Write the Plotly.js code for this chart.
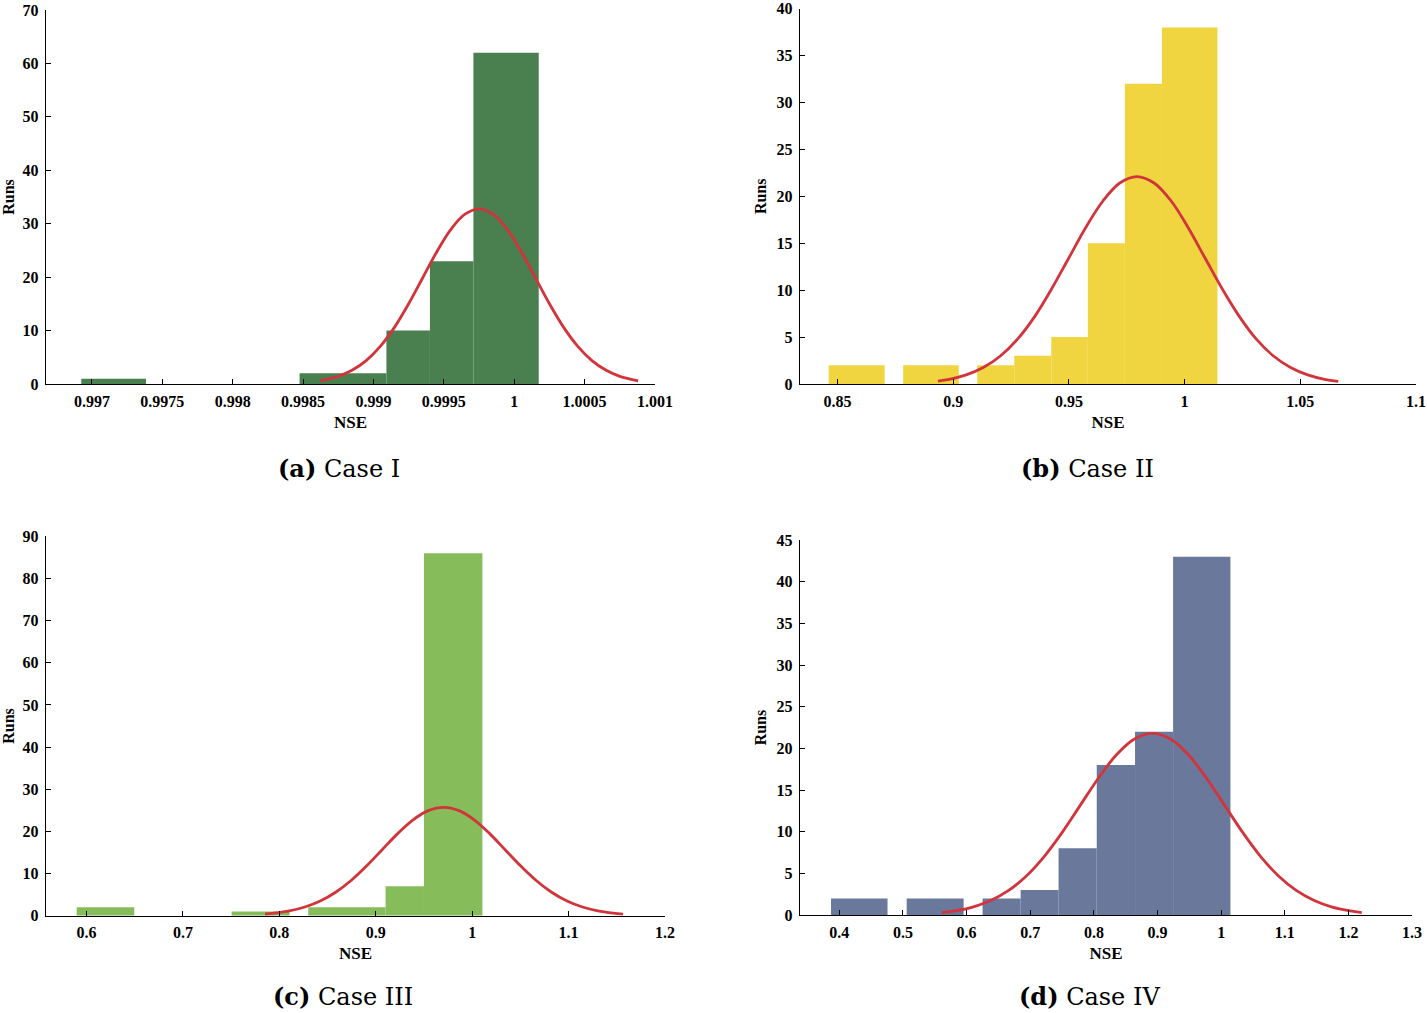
<!DOCTYPE html>
<html>
<head>
<meta charset="utf-8">
<script src="https://cdn.plot.ly/plotly-3.0.1.min.js"></script>
<style>html,body{margin:0;padding:0;background:#fff;}#chart{width:1427px;height:1013px;}</style>
</head>
<body>
<div id="chart"></div>
<script>
// ---------- Data ----------
// Case I
const aBinLeft  = [0.996924, 0.998475, 0.999092, 0.999401, 0.999710];
const aBinRight = [0.997384, 0.999092, 0.999401, 0.999710, 1.000174];
const aCounts   = [1, 2, 10, 23, 62];
const aCurveX = [0.99862, 0.99875, 0.99885, 0.99895, 0.99905, 0.99915, 0.99925, 0.99935, 0.99945, 0.99955, 0.99965, 0.99975,
                 0.99985, 0.99995, 1.00005, 1.00015, 1.00025, 1.00035, 1.00045, 1.00055, 1.00065, 1.00075, 1.00088];
const aCurveY = [0.61, 1.44, 2.61, 4.44, 7.10, 10.65, 15.02, 19.89, 24.76, 28.95, 31.79, 32.8,
                 31.79, 28.95, 24.76, 19.89, 15.02, 10.65, 7.10, 4.44, 2.61, 1.44, 0.61];
const aTickVals = [0.997, 0.9975, 0.998, 0.9985, 0.999, 0.9995, 1, 1.0005, 1.001];
const aTickText = ["0.997", "0.9975", "0.998", "0.9985", "0.999", "0.9995", "1", "1.0005", "1.001"];
const aYTicks = [0, 10, 20, 30, 40, 50, 60, 70];

// Case II
const bBinLeft  = [0.8462, 0.8784, 0.9104, 0.9264, 0.9424, 0.9582, 0.9742, 0.9902];
const bBinRight = [0.8704, 0.9024, 0.9264, 0.9424, 0.9582, 0.9742, 0.9902, 1.0142];
const bCounts   = [2, 2, 2, 3, 5, 15, 32, 38];
const bCurveX = [0.8934, 0.8983, 0.9056, 0.9130, 0.9204, 0.9278, 0.9352, 0.9425, 0.9499, 0.9573, 0.9647, 0.9720, 0.9794,
                 0.9868, 0.9942, 1.0015, 1.0089, 1.0163, 1.0237, 1.0310, 1.0384, 1.0458, 1.0532, 1.0605, 1.0664];
const bCurveY = [0.32, 0.50, 0.97, 1.76, 2.99, 4.78, 7.18, 10.12, 13.40, 16.68, 19.50, 21.42, 22.1,
                 21.42, 19.50, 16.68, 13.40, 10.12, 7.18, 4.78, 2.99, 1.76, 0.97, 0.50, 0.29];
const bTickVals = [0.85, 0.9, 0.95, 1, 1.05, 1.1];
const bTickText = ["0.85", "0.9", "0.95", "1", "1.05", "1.1"];
const bYTicks = [0, 5, 10, 15, 20, 25, 30, 35, 40];

// Case III
const cBinLeft  = [0.5898, 0.7505, 0.8300, 0.9102, 0.9500];
const cBinRight = [0.6495, 0.8106, 0.9102, 0.9500, 1.0106];
const cCounts   = [2, 1, 2, 7, 86];
const cCurveX = [0.7852, 0.7944, 0.8104, 0.8264, 0.8424, 0.8584, 0.8744, 0.8904, 0.9064, 0.9224, 0.9384, 0.9544, 0.9704,
                 0.9864, 1.0024, 1.0184, 1.0344, 1.0504, 1.0664, 1.0824, 1.0984, 1.1144, 1.1304, 1.1464, 1.1565];
const cCurveY = [0.39, 0.59, 1.13, 2.05, 3.48, 5.56, 8.34, 11.77, 15.59, 19.40, 22.68, 24.91, 25.7,
                 24.91, 22.68, 19.40, 15.59, 11.77, 8.34, 5.56, 3.48, 2.05, 1.13, 0.59, 0.37];
const cTickVals = [0.6, 0.7, 0.8, 0.9, 1, 1.1, 1.2];
const cTickText = ["0.6", "0.7", "0.8", "0.9", "1", "1.1", "1.2"];
const cYTicks = [0, 10, 20, 30, 40, 50, 60, 70, 80, 90];

// Case IV
const dBinLeft  = [0.3869, 0.5058, 0.6251, 0.6849, 0.7445, 0.8045, 0.8647, 0.9245];
const dBinRight = [0.4757, 0.5953, 0.6849, 0.7445, 0.8045, 0.8647, 0.9245, 1.0146];
const dCounts   = [2, 2, 2, 3, 8, 18, 22, 43];
const dCurveX = [0.561, 0.5813, 0.6095, 0.6378, 0.666, 0.6943, 0.7225, 0.7508, 0.779, 0.8073, 0.8355, 0.8638, 0.892,
                 0.9203, 0.9485, 0.9768, 1.005, 1.0333, 1.0615, 1.0898, 1.118, 1.1463, 1.1745, 1.2028, 1.221];
const dCurveY = [0.30, 0.50, 0.96, 1.74, 2.95, 4.72, 7.08, 9.98, 13.22, 16.45, 19.24, 21.13, 21.8,
                 21.13, 19.24, 16.45, 13.22, 9.98, 7.08, 4.72, 2.95, 1.74, 0.96, 0.50, 0.30];
const dTickVals = [0.4, 0.5, 0.6, 0.7, 0.8, 0.9, 1, 1.1, 1.2, 1.3];
const dTickText = ["0.4", "0.5", "0.6", "0.7", "0.8", "0.9", "1", "1.1", "1.2", "1.3"];
const dYTicks = [0, 5, 10, 15, 20, 25, 30, 35, 40, 45];

const captions = ["<b>(a)</b> Case I", "<b>(b)</b> Case II", "<b>(c)</b> Case III", "<b>(d)</b> Case IV"];
const xTitle = "NSE";
const yTitle = "Runs";

// ---------- Styling ----------
const barColors = ["#4A7F50", "#F0D540", "#86BC5A", "#6A789C"];
const curveColor = "#D1343B";
const FONT = "Liberation Serif";
const CAPFONT = "DejaVu Serif";

const panels = [
  {L: aBinLeft, R: aBinRight, N: aCounts, cx: aCurveX, cy: aCurveY, tv: aTickVals, tt: aTickText, yt: aYTicks,
   xr: [0.996673, 1.001], yr: [0, 70], xd: [0.0322, 0.459], yd: [0.6209, 0.9901]},
  {L: bBinLeft, R: bBinRight, N: bCounts, cx: bCurveX, cy: bCurveY, tv: bTickVals, tt: bTickText, yt: bYTicks,
   xr: [0.8338, 1.1], yr: [0, 40], xd: [0.5606, 0.9923], yd: [0.6209, 0.9915]},
  {L: cBinLeft, R: cBinRight, N: cCounts, cx: cCurveX, cy: cCurveY, tv: cTickVals, tt: cTickText, yt: cYTicks,
   xr: [0.5579, 1.2], yr: [0, 90], xd: [0.0322, 0.466], yd: [0.0961, 0.4706]},
  {L: dBinLeft, R: dBinRight, N: dCounts, cx: dCurveX, cy: dCurveY, tv: dTickVals, tt: dTickText, yt: dYTicks,
   xr: [0.3381, 1.3], yr: [0, 45], xd: [0.5606, 0.9895], yd: [0.0967, 0.4669]}
];

const traces = [];
const layout = {
  width: 1427, height: 1013,
  margin: {l: 0, r: 0, t: 0, b: 0},
  paper_bgcolor: "#ffffff", plot_bgcolor: "rgba(0,0,0,0)",
  showlegend: false,
  barmode: "overlay",
  annotations: []
};

const capPos = [[0.2376, 0.538], [0.7624, 0.538], [0.2404, 0.0158], [0.7638, 0.0158]];

panels.forEach((p, i) => {
  const n = i + 1;
  const xa = n === 1 ? "x" : "x" + n;
  const ya = n === 1 ? "y" : "y" + n;
  traces.push({
    type: "bar",
    x: p.L.map((l, k) => (l + p.R[k]) / 2),
    width: p.L.map((l, k) => p.R[k] - l),
    y: p.N,
    xaxis: xa, yaxis: ya,
    marker: {color: barColors[i], line: {width: 0}},
    hoverinfo: "x+y"
  });
  traces.push({
    type: "scatter", mode: "lines",
    x: p.cx, y: p.cy,
    xaxis: xa, yaxis: ya,
    line: {color: curveColor, width: 2.8, shape: "spline", smoothing: 1}
  });
  const common = {
    showline: true, linecolor: "#000", linewidth: 1.3,
    ticks: "inside", ticklen: 5, tickwidth: 1, tickcolor: "#000",
    showgrid: false, zeroline: false, automargin: false,
    ticklabeloverflow: "allow",
    tickfont: {family: FONT, size: 16, color: "#000", weight: "bold"}
  };
  layout["xaxis" + (n === 1 ? "" : n)] = Object.assign({}, common, {
    domain: p.xd, range: p.xr, anchor: ya,
    tickmode: "array", tickvals: p.tv, ticktext: p.tt,
    ticklabelstandoff: 2,
    title: {text: xTitle, font: {family: FONT, size: 17, color: "#000", weight: "bold"}, standoff: 7}
  });
  layout["yaxis" + (n === 1 ? "" : n)] = Object.assign({}, common, {
    domain: p.yd, range: p.yr, anchor: xa,
    tickmode: "array", tickvals: p.yt, ticktext: p.yt.map(String),
    ticklabelstandoff: 3,
    title: {text: yTitle, font: {family: FONT, size: 16, color: "#000", weight: "bold"}, standoff: 6}
  });
  layout.annotations.push({
    xref: "paper", yref: "paper", x: capPos[i][0], y: capPos[i][1],
    xanchor: "center", yanchor: "middle", showarrow: false,
    text: captions[i],
    font: {family: CAPFONT, size: 24, color: "#000"}
  });
});

Plotly.newPlot("chart", traces, layout, {displayModeBar: false, staticPlot: true});
</script>
</body>
</html>
